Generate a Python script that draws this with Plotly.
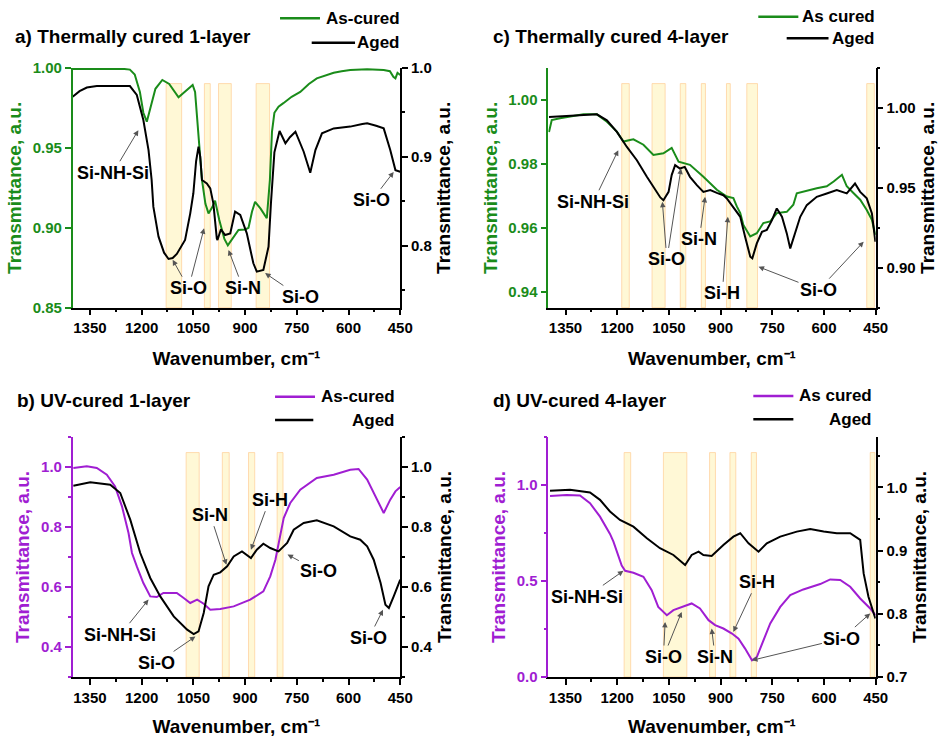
import plotly.graph_objects as go

GREEN = '#1A8C1A'
PURPLE = '#A01ED2'
FONT = 'Arial, Liberation Sans, sans-serif'

# ---------------- data (wavenumber, transmittance) ----------------
# a) Thermally cured 1-layer
a_asc_wn = [1400, 1300, 1250, 1234, 1220, 1205, 1195, 1185, 1175, 1160, 1140, 1120, 1093, 1070, 1052,
            1045, 1035, 1025, 1015, 1006, 995, 987, 975, 960, 950, 935, 919, 900, 890, 880, 871, 855,
            837, 828, 822, 815, 803, 789, 765, 740, 715, 692, 670, 643, 620, 595, 546, 520, 498, 480,
            470, 464, 458, 450]
a_asc = [0.9994, 0.9995, 0.9994, 0.999, 0.996, 0.985, 0.972, 0.9664, 0.974, 0.987, 0.9925, 0.990, 0.9817,
         0.986, 0.9894, 0.985, 0.958, 0.930, 0.915, 0.909, 0.913, 0.917, 0.905, 0.893, 0.889, 0.894,
         0.8986, 0.899, 0.900, 0.910, 0.9163, 0.912, 0.906, 0.93, 0.96, 0.972, 0.9758, 0.978, 0.982,
         0.985, 0.990, 0.9935, 0.995, 0.997, 0.998, 0.9987, 0.9992, 0.999, 0.9987, 0.998, 0.9945,
         0.9935, 0.997, 0.9956]
a_aged_wn = [1400, 1380, 1359, 1330, 1280, 1234, 1214, 1195, 1180, 1171, 1166, 1151, 1135, 1122, 1110,
             1098, 1074, 1059, 1050, 1042, 1035, 1030, 1025, 1015, 1011, 1001, 992, 982, 980, 970, 958,
             943, 929, 914, 895, 876, 866, 847, 832, 825, 815, 800, 783, 770, 754, 730, 711, 696, 677,
             643, 595, 560, 546, 520, 498, 479, 464, 450]
a_aged = [0.9677, 0.974, 0.978, 0.9797, 0.9797, 0.9797, 0.9696, 0.9414, 0.9076, 0.874, 0.8438, 0.81,
          0.792, 0.7849, 0.786, 0.7905, 0.8063, 0.8363, 0.8589, 0.895, 0.9114, 0.900, 0.8738, 0.871,
          0.870, 0.8645, 0.8476, 0.808, 0.8063, 0.8183, 0.8119, 0.8137, 0.8382, 0.8344, 0.8137, 0.78,
          0.7706, 0.7725, 0.7987, 0.8476, 0.905, 0.929, 0.9152, 0.922, 0.9283, 0.9057, 0.882, 0.9076,
          0.9264, 0.932, 0.934, 0.937, 0.9377, 0.935, 0.932, 0.9076, 0.885, 0.8832]

# c) Thermally cured 4-layer
c_asc_wn = [1398, 1390, 1366, 1337, 1298, 1259, 1230, 1201, 1182, 1163, 1153, 1124, 1095, 1066, 1042,
            1022, 989, 950, 911, 882, 863, 853, 843, 834, 814, 795, 776, 756, 737, 708, 689, 679, 660,
            621, 592, 572, 548, 534, 514, 495, 476, 461, 451]
c_asc = [0.990, 0.9937, 0.9943, 0.9948, 0.9955, 0.9955, 0.9932, 0.9901, 0.987, 0.9875, 0.9877, 0.986,
         0.9828, 0.9833, 0.985, 0.9807, 0.9797, 0.976, 0.9719, 0.9698, 0.9693, 0.9667, 0.9646, 0.9609,
         0.9573, 0.9583, 0.9615, 0.962, 0.9646, 0.965, 0.9672, 0.9708, 0.9714, 0.9724, 0.973, 0.9745,
         0.9766, 0.973, 0.9708, 0.9688, 0.9656, 0.9625, 0.9578]
c_aged_wn = [1398, 1350, 1300, 1259, 1230, 1201, 1172, 1143, 1114, 1090, 1075, 1066, 1051, 1042, 1032,
             1018, 1004, 989, 969, 950, 930, 911, 892, 882, 863, 843, 829, 814, 808, 795, 780, 766, 751,
             737, 722, 708, 698, 684, 669, 650, 621, 592, 563, 534, 510, 495, 476, 461, 451]
c_aged = [0.9944, 0.9948, 0.9955, 0.996, 0.9923, 0.985, 0.9756, 0.9673, 0.9569, 0.9486, 0.944, 0.9423,
          0.9475, 0.958, 0.9642, 0.9621, 0.9631, 0.9569, 0.9517, 0.9475, 0.9486, 0.9469, 0.9454, 0.9434,
          0.9381, 0.9319, 0.9194, 0.9069, 0.9059, 0.9152, 0.9225, 0.9236, 0.9298, 0.9371, 0.9319,
          0.9215, 0.9121, 0.9215, 0.9319, 0.9392, 0.9444, 0.9465, 0.9486, 0.9465, 0.9527, 0.9475,
          0.9434, 0.934, 0.9163]

# b) UV-cured 1-layer
b_asc_wn = [1398, 1359, 1330, 1301, 1277, 1257, 1238, 1228, 1214, 1195, 1175, 1156, 1137, 1098, 1078,
            1059, 1039, 1020, 1001, 972, 933, 885, 847, 827, 812, 800, 788, 769, 740, 692, 643, 595,
            571, 546, 527, 498, 479, 464, 450]
b_asc = [0.9967, 1.002, 0.9967, 0.9743, 0.9353, 0.8687, 0.78, 0.7133, 0.6687, 0.6133, 0.5687, 0.5667,
         0.58, 0.58, 0.5633, 0.5467, 0.5577, 0.5443, 0.5243, 0.5267, 0.5353, 0.5577, 0.5853, 0.6353,
         0.691, 0.76, 0.83, 0.88, 0.9243, 0.9633, 0.9743, 0.991, 0.9933, 0.9577, 0.9133, 0.8467,
         0.891, 0.9187, 0.9333]
b_aged_wn = [1398, 1349, 1291, 1262, 1233, 1214, 1204, 1175, 1146, 1107, 1068, 1049, 1035, 1020, 1006,
             991, 972, 952, 933, 909, 883, 866, 847, 827, 803, 778, 759, 730, 692, 643, 595, 566, 546,
             527, 507, 493, 483, 469, 450]
b_aged = [0.9377, 0.9487, 0.941, 0.9133, 0.8243, 0.7467, 0.7133, 0.63, 0.5687, 0.502, 0.4577, 0.4433,
          0.452, 0.5133, 0.602, 0.641, 0.6487, 0.6687, 0.702, 0.7187, 0.6967, 0.7243, 0.7443, 0.73,
          0.7187, 0.7467, 0.791, 0.8133, 0.822, 0.802, 0.7687, 0.7577, 0.7353, 0.691, 0.6133, 0.541,
          0.53, 0.5687, 0.6243]

# d) UV-cured 4-layer
d_asc_wn = [1395, 1347, 1308, 1279, 1250, 1221, 1211, 1201, 1197, 1187, 1177, 1153, 1124, 1100, 1081,
            1056, 1037, 1018, 984, 960, 935, 916, 892, 867, 848, 829, 809, 795, 776, 756, 727, 698, 660,
            611, 582, 553, 524, 495, 466, 451]
d_asc = [0.943, 0.948, 0.945, 0.905, 0.835, 0.745, 0.705, 0.65, 0.626, 0.58, 0.553, 0.543, 0.522,
         0.4525, 0.365, 0.322, 0.348, 0.36, 0.383, 0.357, 0.296, 0.27, 0.2525, 0.2265, 0.2, 0.148,
         0.087, 0.104, 0.1915, 0.279, 0.365, 0.426, 0.456, 0.484, 0.508, 0.505, 0.47, 0.409, 0.357,
         0.322]
d_aged_wn = [1395, 1337, 1279, 1250, 1221, 1192, 1153, 1114, 1076, 1037, 1003, 984, 964, 950, 926, 892,
             863, 843, 819, 790, 766, 727, 679, 640, 601, 563, 524, 504, 495, 485, 471, 451]
d_aged = [0.9948, 0.9963, 0.992, 0.9805, 0.962, 0.9487, 0.938, 0.9197, 0.9038, 0.8932, 0.8773, 0.8932,
          0.8984, 0.8932, 0.8916, 0.909, 0.9222, 0.9276, 0.9117, 0.8984, 0.9117, 0.9222, 0.9302, 0.9344,
          0.9302, 0.9276, 0.9276, 0.9197, 0.917, 0.864, 0.827, 0.7927]

# highlighted bands (wavenumber ranges)
a_bands = [(1129, 1084), (1018, 1001), (977, 940), (868, 829)]
c_bands = [(1187, 1165), (1099, 1061), (1017, 1001), (956, 944), (883, 872), (824, 793), (476, 454)]
b_bands = [(1071, 1033), (966, 946), (890, 872), (807, 790)]
d_bands = [(1180, 1161), (1066, 998), (932, 915), (873, 856), (811, 796), (466, 452)]

# peak labels: (text, head wavenumber, head value, text wavenumber, text value, visible)
a_labels = [("Si-NH-Si", 1209.5, 0.930, 1283, 0.882, True), ("Si-O", 1110, 0.784, 1064, 0.752, True),
            ("Si-O", 1019, 0.8194, 1064, 0.752, False), ("Si-N", 948, 0.795, 906, 0.752, True),
            ("Si-O", 842, 0.769, 740, 0.742, True), ("Si-O", 469, 0.883, 532, 0.851, True)]
c_labels = [("Si-NH-Si", 1197, 0.9736, 1269, 0.9413, True), ("Si-O", 1069, 0.9413, 1056, 0.9052, True),
            ("Si-O", 1015, 0.9621, 1056, 0.9052, False), ("Si-N", 945, 0.9444, 962, 0.9178, True),
            ("Si-H", 879, 0.9319, 895, 0.884, True), ("Si-O", 790, 0.9006, 616, 0.886, True),
            ("Si-O", 485, 0.9163, 616, 0.886, False)]
b_labels = [("Si-N", 954, 0.674, 1001, 0.841, True), ("Si-H", 883, 0.724, 829, 0.891, True),
            ("Si-O", 777, 0.708, 686, 0.652, True), ("Si-NH-Si", 1180, 0.558, 1262, 0.441, True),
            ("Si-O", 1044, 0.435, 1156, 0.347, True), ("Si-O", 500, 0.524, 541, 0.43, True)]
d_labels = [("Si-NH-Si", 1182, 0.553, 1289, 0.4175, True), ("Si-O", 1061, 0.287, 1066, 0.104, True),
            ("Si-O", 1013, 0.339, 1066, 0.104, False), ("Si-N", 926, 0.2526, 916, 0.104, True),
            ("Si-H", 863, 0.235, 795, 0.496, True), ("Si-O", 809, 0.087, 548, 0.2, True),
            ("Si-O", 466, 0.331, 548, 0.2, False)]

x_ticks_start, x_tick_step = 450, 150

# ---------------- figure ----------------
fig = go.Figure()

def add_line(x, y, xa, ya, color):
    fig.add_trace(go.Scatter(x=x, y=y, xaxis=xa, yaxis=ya, mode='lines',
                             line=dict(color=color, width=2), showlegend=False,
                             hoverinfo='skip'))

add_line(a_asc_wn, a_asc, 'x', 'y', GREEN)
add_line(a_aged_wn, a_aged, 'x', 'y2', 'black')
add_line(c_asc_wn, c_asc, 'x2', 'y3', GREEN)
add_line(c_aged_wn, c_aged, 'x2', 'y4', 'black')
add_line(b_asc_wn, b_asc, 'x3', 'y5', PURPLE)
add_line(b_aged_wn, b_aged, 'x3', 'y6', 'black')
add_line(d_asc_wn, d_asc, 'x4', 'y7', PURPLE)
add_line(d_aged_wn, d_aged, 'x4', 'y8', 'black')

def bfont(size, color='black'):
    return dict(family=FONT, size=size, color=color, weight='bold')

def xax(domain, anchor):
    return dict(domain=domain, anchor=anchor, range=[1400, 450], tick0=x_ticks_start,
                dtick=x_tick_step, ticks='outside', ticklen=6, tickwidth=1.5, tickcolor='black',
                showline=True, linecolor='black', linewidth=1.5, showgrid=False, zeroline=False,
                tickfont=bfont(15), automargin=False,
                minor=dict(dtick=75, ticks='outside', ticklen=3, tickwidth=1.5, tickcolor='black'),
                title=dict(text='Wavenumber, cm\u207b\u00b9', font=bfont(19), standoff=16))

def yax(domain, anchor, rng, dtick, fmt, color, minor=None, side='left', overlaying=None):
    d = dict(domain=domain, anchor=anchor, range=rng, tick0=0, dtick=dtick, tickformat=fmt,
             ticks='outside', ticklen=6, tickwidth=1.5, tickcolor=color, showline=True,
             linecolor=color, linewidth=1.5, showgrid=False, zeroline=False, side=side,
             tickfont=bfont(15, color), automargin=False,
             title=dict(text='Transmittance, a.u.', font=bfont(19, color), standoff=6))
    if minor:
        d['minor'] = dict(dtick=minor, ticks='outside', ticklen=3, tickwidth=1.5, tickcolor=color)
    if overlaying:
        d['overlaying'] = overlaying
    return d

XL = [0.0773, 0.4258]
XR = [0.5833, 0.9316]
YT = [0.5825, 0.9077]
YB = [0.0814, 0.4071]

fig.update_layout(
    width=940, height=737, margin=dict(l=0, r=0, t=0, b=0),
    paper_bgcolor='white', plot_bgcolor='white', showlegend=False,
    xaxis=xax(XL, 'y'), xaxis2=xax(XR, 'y3'), xaxis3=xax(XL, 'y5'), xaxis4=xax(XR, 'y7'),
    yaxis=yax(YT, 'x', [0.85, 1.0], 0.05, '.2f', GREEN),
    yaxis2=yax(YT, 'x', [0.73, 1.0], 0.1, '.1f', 'black', minor=0.05, side='right', overlaying='y'),
    yaxis3=yax(YT, 'x2', [0.935, 1.010], 0.02, '.2f', GREEN),
    yaxis4=yax(YT, 'x2', [0.875, 1.025], 0.05, '.2f', 'black', minor=0.025, side='right', overlaying='y3'),
    yaxis5=yax(YB, 'x3', [0.3, 1.1], 0.2, '.1f', PURPLE, minor=0.1),
    yaxis6=yax(YB, 'x3', [0.3, 1.1], 0.2, '.1f', 'black', minor=0.1, side='right', overlaying='y5'),
    yaxis7=yax(YB, 'x4', [0.0, 1.25], 0.5, '.1f', PURPLE, minor=0.25),
    yaxis8=yax(YB, 'x4', [0.7, 1.08], 0.1, '.1f', 'black', minor=0.05, side='right', overlaying='y7'),
)

shapes = []
for bands, xr, yr in [(a_bands, 'x', 'y'), (c_bands, 'x2', 'y3'), (b_bands, 'x3', 'y5'), (d_bands, 'x4', 'y7')]:
    for lo, hi in bands:
        shapes.append(dict(type='rect', xref=xr, yref=yr + ' domain', x0=lo, x1=hi, y0=0, y1=0.935,
                           fillcolor='rgba(255,246,200,0.75)', line=dict(color='rgba(255,205,150,0.7)', width=1),
                           layer='below'))

annotations = []
for labels, xr, yr in [(a_labels, 'x', 'y2'), (c_labels, 'x2', 'y4'), (b_labels, 'x3', 'y6'), (d_labels, 'x4', 'y7')]:
    for txt, hx, hy, tx, ty, vis in labels:
        annotations.append(dict(text=txt, x=hx, y=hy, xref=xr, yref=yr, ax=tx, ay=ty, axref=xr, ayref=yr,
                                showarrow=True, arrowhead=2, arrowsize=1.1, arrowwidth=1,
                                arrowcolor='#555555',
                                font=bfont(18, 'black' if vis else 'rgba(0,0,0,0)')))

# panel titles
for txt, px, py in [("a) Thermally cured 1-layer", 0.0138, 0.9498), ("c) Thermally cured 4-layer", 0.522, 0.9498),
                    ("b) UV-cured 1-layer", 0.016, 0.4563), ("d) UV-cured 4-layer", 0.522, 0.4563)]:
    annotations.append(dict(text=txt, x=px, y=py, xref='paper', yref='paper', xanchor='left',
                            yanchor='middle', showarrow=False, font=bfont(19)))

# legends (line sample + right-aligned label)
legend_items = [
    ("As-cured", GREEN, 0.2979, 0.3404, 0.9752, 0.4277),
    ("Aged", 'black', 0.3316, 0.3777, 0.9421, 0.4277),
    ("As cured", GREEN, 0.8067, 0.8493, 0.9773, 0.9333),
    ("Aged", 'black', 0.8369, 0.8814, 0.9480, 0.9333),
    ("As-cured", PURPLE, 0.2926, 0.3351, 0.4617, 0.4220),
    ("Aged", 'black', 0.2926, 0.3333, 0.4301, 0.4220),
    ("As cured", PURPLE, 0.8014, 0.8440, 0.4627, 0.9298),
    ("Aged", 'black', 0.8014, 0.8440, 0.4310, 0.9298),
]
for txt, col, x0, x1, yy, xt in legend_items:
    shapes.append(dict(type='line', xref='paper', yref='paper', x0=x0, x1=x1, y0=yy, y1=yy,
                       line=dict(color=col, width=2.5)))
    annotations.append(dict(text=txt, x=xt, y=yy, xref='paper', yref='paper', xanchor='right',
                            yanchor='middle', showarrow=False, font=bfont(17)))

fig.update_layout(shapes=shapes, annotations=annotations)
fig.write_html("out.html")
